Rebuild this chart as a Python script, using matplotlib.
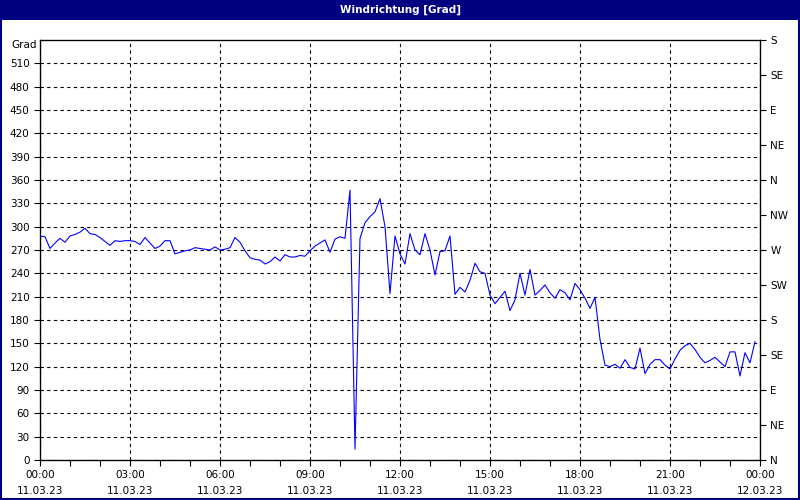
import datetime as dt

import matplotlib
matplotlib.use("Agg")
import matplotlib.pyplot as plt
import matplotlib.dates as mdates
from matplotlib.patches import Rectangle

# ----- data (10-minute samples, 11.03.23 00:00 .. 23:50) -----
START = dt.datetime(2023, 3, 11, 0, 0)
END = dt.datetime(2023, 3, 12, 0, 0)

direction = [
    288, 287, 272, 279, 285, 280, 288, 290, 293, 298, 291, 290,
    286, 281, 276, 282, 281, 282, 282, 281, 277, 286, 279, 272,
    275, 282, 282, 265, 267, 269, 270, 273, 272, 271, 270, 274,
    270, 271, 273, 286, 280, 269, 260, 258, 257, 252, 255, 261,
    256, 264, 261, 261, 263, 262, 269, 275, 279, 283, 267, 284,
    287, 285, 347, 14, 285, 305, 313, 319, 336, 300, 214, 288,
    265, 252, 291, 270, 264, 291, 270, 238, 268, 269, 288, 213,
    222, 216, 231, 253, 242, 240, 212, 201, 209, 217, 192, 206,
    240, 212, 245, 212, 218, 225, 215, 208, 219, 215, 206, 227,
    219, 208, 195, 209, 155, 122, 120, 123, 118, 129, 119, 117,
    144, 111, 123, 129, 129, 122, 117, 130, 141, 147, 150, 142,
    132, 125, 128, 132, 126, 120, 139, 139, 108, 138, 125, 152,
]
times = [START + dt.timedelta(minutes=10 * i) for i in range(len(direction))]

grad_ticks = list(range(0, 540, 30))
compass_ticks = list(range(0, 541, 45))
compass_labels = ["N", "NE", "E", "SE", "S", "SW", "W", "NW",
                  "N", "NE", "E", "SE", "S"]

NAVY = "#000080"
FS = 7.5

plt.rcParams.update({
    "font.family": "DejaVu Sans",
    "font.size": FS,
})

fig = plt.figure(figsize=(8, 5), dpi=100, facecolor="white")

# title bar + window border
fig.patches.append(Rectangle((0, 0.96), 1, 0.04, transform=fig.transFigure,
                             facecolor=NAVY, edgecolor="none", zorder=0))
fig.patches.append(Rectangle((0.001, 0.002), 0.998, 0.996, transform=fig.transFigure,
                             facecolor="none", edgecolor=NAVY, linewidth=1.5, zorder=5))
fig.text(0.5, 0.98, "Windrichtung [Grad]", ha="center", va="center",
         color="white", fontsize=7.5, weight="bold")

ax = fig.add_axes([0.05, 0.08, 0.9, 0.84])
ax.plot(times, direction, color="#0000FF", linewidth=0.8, zorder=3)

ax.set_xlim(START, END)
ax.set_ylim(0, 540)

ax.xaxis.set_major_locator(mdates.HourLocator(byhour=range(0, 24, 3)))
ax.xaxis.set_minor_locator(mdates.HourLocator())
ax.xaxis.set_major_formatter(mdates.DateFormatter("%H:%M\n%d.%m.%y"))
ax.set_yticks(grad_ticks)

ax.tick_params(axis="both", direction="out", length=4, width=0.8,
               colors="black", labelsize=FS)
ax.tick_params(axis="x", which="minor", length=4, width=0.8)
ax.tick_params(axis="x", pad=3)
for lbl in ax.get_xticklabels():
    lbl.set_linespacing(1.8)

ax.grid(True, which="major", color="black", linestyle=(0, (3, 3)), linewidth=0.8)
for s in ax.spines.values():
    s.set_linewidth(0.9)
    s.set_color("black")

ax.text(-0.004, 1.0, "Grad", transform=ax.transAxes, ha="right", va="top",
        fontsize=FS)

# compass scale on the right
ax2 = ax.twinx()
ax2.set_ylim(0, 540)
ax2.set_yticks(compass_ticks)
ax2.set_yticklabels(compass_labels)
ax2.tick_params(axis="y", direction="out", length=4, width=0.8, labelsize=FS)

fig.savefig("out.png", dpi=100, facecolor="white")
